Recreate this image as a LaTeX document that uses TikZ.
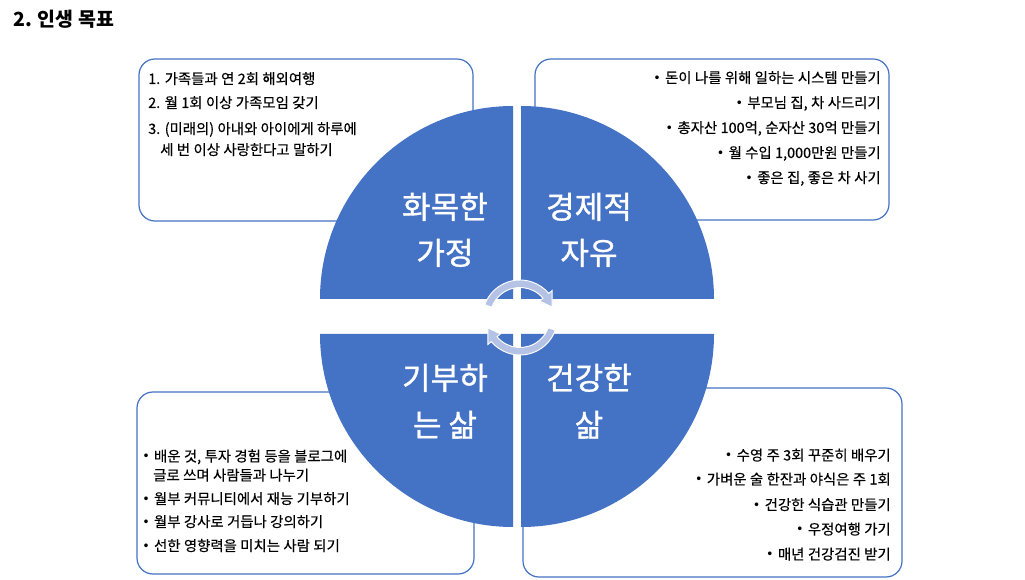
\documentclass[tikz,border=0pt]{standalone}
\usepackage{fontspec}
\setmainfont{Noto Sans CJK KR}[WordSpace=1.05, FakeBold=0.35]
\newfontfamily\lblfont{Noto Sans CJK KR}[FakeBold=1.1]
\newfontfamily\ttlfont{Noto Sans CJK KR}
\newfontfamily\symfont{DejaVu Sans}
\newcommand\bul{\raisebox{0.5pt}{\symfont\fontsize{9.5}{10}\selectfont •}\hspace{0.3em}}
\usetikzlibrary{calc}
\definecolor{qblue}{HTML}{4472C4}
\definecolor{arrowc}{HTML}{B4C3E5}
\begin{document}
\begin{tikzpicture}[x=0.75pt,y=0.75pt,
  box/.style={draw=qblue, line width=0.9pt, rounded corners=12pt, fill=white},
  quad/.style={fill=qblue},
  qlabel/.style={text=white, font=\lblfont\fontsize{23.3}{28}\selectfont, inner sep=0pt, anchor=base},
  ltext/.style={font=\fontsize{10.8}{13}\selectfont, inner sep=0pt, anchor=base west},
  rtext/.style={font=\fontsize{10.8}{13}\selectfont, inner sep=0pt, anchor=base east},
  cyc/.style={fill=arrowc, draw=white, line width=0.7pt, line join=miter}]
\useasboundingbox (0,0) rectangle (1025,579);
\fill[white] (0,0) rectangle (1025,579);

% title
\node[inner sep=0pt, anchor=base west, font=\ttlfont\fontsize{14.6}{18}\selectfont\bfseries] (title) at (13,552) {2. 인생 목표};

% text boxes
\draw[box] (139,358) rectangle (473,520);
\draw[box] (535,359) rectangle (889,520);
\draw[box] (137,5) rectangle (474,187);
\draw[box] (523,2) rectangle (902,191);

% quadrants
\fill[quad] (513,280) -- (320,280) arc[start angle=180, end angle=90, radius=193] -- cycle;
\fill[quad] (521,280) -- (521,473) arc[start angle=90, end angle=0, radius=193] -- cycle;
\fill[quad] (513,245) -- (320,245) arc[start angle=180, end angle=270, radius=193] -- cycle;
\fill[quad] (521,245) -- (714,245) arc[start angle=0, end angle=-90, radius=193] -- cycle;

% quadrant labels
\node[qlabel] (q1a) at (445,360.5) {화목한};
\node[qlabel] (q1b) at (445,314.5) {가정};
\node[qlabel] (q2a) at (589,360.5) {경제적};
\node[qlabel] (q2b) at (589,314.5) {자유};
\node[qlabel] (q3a) at (445,189.5) {기부하};
\node[qlabel] (q3b) at (445,142.5) {는 삶};
\node[qlabel] (q4a) at (589,189.5) {건강한};
\node[qlabel] (q4b) at (589,142.5) {삶};

% cycle arrows
\coordinate (c) at (520,261.5);
\path[cyc] ($(c)+(160:37.5)$) arc[start angle=160, end angle=40, radius=37.5]
  -- ($(c)+(40:42)$) -- ($(c)+(18:33.75)$) -- ($(c)+(40:25.5)$) -- ($(c)+(40:30)$)
  arc[start angle=40, end angle=160, radius=30] -- cycle;
\path[cyc] ($(c)+(-20:37.5)$) arc[start angle=-20, end angle=-140, radius=37.5]
  -- ($(c)+(-140:42)$) -- ($(c)+(-162:33.75)$) -- ($(c)+(-140:25.5)$) -- ($(c)+(-140:30)$)
  arc[start angle=-140, end angle=-20, radius=30] -- cycle;

% box 1
\node[ltext] (t11) at (148,495) {1. 가족들과 연 2회 해외여행};
\node[ltext] (t12) at (148,471) {2. 월 1회 이상 가족모임 갖기};
\node[ltext] (t13) at (148,445) {3. (미래의) 아내와 아이에게 하루에};
\node[ltext] (t14) at (160,424) {세 번 이상 사랑한다고 말하기};

% box 2
\node[rtext] (t21) at (881,496) {\bul 돈이 나를 위해 일하는 시스템 만들기};
\node[rtext] (t22) at (881,471) {\bul 부모님 집, 차 사드리기};
\node[rtext] (t23) at (881,446) {\bul 총자산 100억, 순자산 30억 만들기};
\node[rtext] (t24) at (881,421) {\bul 월 수입 1,000만원 만들기};
\node[rtext] (t25) at (881,396) {\bul 좋은 집, 좋은 차 사기};

% box 3
\node[ltext] (t31) at (142,117.5) {\bul 배운 것, 투자 경험 등을 블로그에};
\node[ltext] (t32) at (153,98.5) {글로 쓰며 사람들과 나누기};
\node[ltext] (t33) at (142,75) {\bul 월부 커뮤니티에서 재능 기부하기};
\node[ltext] (t34) at (142,52) {\bul 월부 강사로 거듭나 강의하기};
\node[ltext] (t35) at (142,28) {\bul 선한 영향력을 미치는 사람 되기};

% box 4
\node[rtext] (t41) at (891,118.5) {\bul 수영 주 3회 꾸준히 배우기};
\node[rtext] (t42) at (891,94.5) {\bul 가벼운 술 한잔과 야식은 주 1회};
\node[rtext] (t43) at (891,69) {\bul 건강한 식습관 만들기};
\node[rtext] (t44) at (891,44.5) {\bul 우정여행 가기};
\node[rtext] (t45) at (891,19.5) {\bul 매년 건강검진 받기};
\end{tikzpicture}
\end{document}
